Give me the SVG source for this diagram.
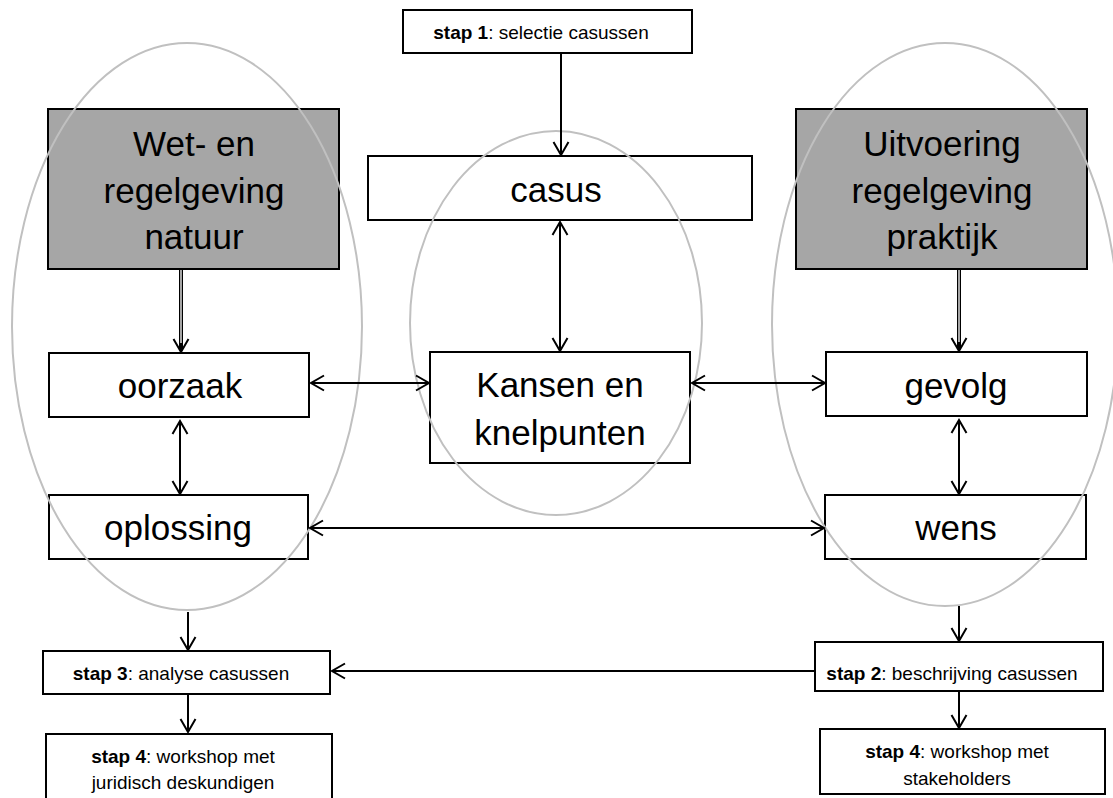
<svg xmlns="http://www.w3.org/2000/svg" width="1113" height="798" viewBox="0 0 1113 798">
<style>
.box{fill:#fff;stroke:#000;stroke-width:2}
.grey{fill:#a6a6a6;stroke:#000;stroke-width:2}
.ell{fill:none;stroke:#c0c0c0;stroke-width:2}
.big{font-family:"Liberation Sans",Arial,sans-serif;font-size:35px;fill:#000;text-anchor:middle}
.sm{font-family:"Liberation Sans",Arial,sans-serif;font-size:19px;fill:#000;text-anchor:middle}
.b{font-weight:bold}
.con{stroke:#000;stroke-width:2;fill:none}
.dbl{stroke:#000;stroke-width:4;fill:none}
.dblw{stroke:#fff;stroke-width:1.3;fill:none}
</style>
<defs>
<marker id="ah" markerUnits="userSpaceOnUse" markerWidth="20" markerHeight="20" viewBox="-16 -10 20 20" refX="0" refY="0" orient="auto-start-reverse">
<path d="M-13,-7.5 L0,0 L-13,7.5" fill="none" stroke="#000" stroke-width="2"/>
</marker>
</defs>
<rect width="1113" height="798" fill="#fff"/>

<g id="stap1"><rect class="box" x="403" y="10" width="289" height="43"/><text class="sm" x="541" y="39"><tspan class="b">stap 1</tspan>: selectie casussen</text></g>
<g id="wet"><rect class="grey" x="48" y="109" width="291" height="160"/><text class="big" x="194" y="156">Wet- en</text><text class="big" x="194" y="203">regelgeving</text><text class="big" x="194" y="249">natuur</text></g>
<g id="uitvoering"><rect class="grey" x="796" y="109" width="291" height="160"/><text class="big" x="942" y="156">Uitvoering</text><text class="big" x="942" y="203">regelgeving</text><text class="big" x="942" y="249">praktijk</text></g>
<g id="casus"><rect class="box" x="368" y="156" width="384" height="64"/><text class="big" x="556" y="202">casus</text></g>
<g id="oorzaak"><rect class="box" x="49" y="353" width="260" height="64"/><text class="big" x="180" y="398">oorzaak</text></g>
<g id="kansen"><rect class="box" x="430" y="352" width="260" height="111"/><text class="big" x="560" y="397">Kansen en</text><text class="big" x="560" y="445">knelpunten</text></g>
<g id="gevolg"><rect class="box" x="826" y="352" width="261" height="64"/><text class="big" x="956" y="398">gevolg</text></g>
<g id="oplossing"><rect class="box" x="49" y="495" width="259" height="64"/><text class="big" x="178" y="540">oplossing</text></g>
<g id="wens"><rect class="box" x="825" y="495" width="261" height="64"/><text class="big" x="956" y="540">wens</text></g>
<g id="stap3"><rect class="box" x="43" y="651" width="287" height="43"/><text class="sm" x="181" y="680"><tspan class="b">stap 3</tspan>: analyse casussen</text></g>
<g id="stap2"><rect class="box" x="815" y="642" width="288" height="49"/><text class="sm" x="952" y="680"><tspan class="b">stap 2</tspan>: beschrijving casussen</text></g>
<g id="stap4a"><rect class="box" x="46" y="734" width="286" height="80"/><text class="sm" x="183" y="763"><tspan class="b">stap 4</tspan>: workshop met</text><text class="sm" x="183" y="789">juridisch deskundigen</text></g>
<g id="stap4b"><rect class="box" x="820" y="729" width="285" height="65"/><text class="sm" x="957" y="758"><tspan class="b">stap 4</tspan>: workshop met</text><text class="sm" x="957" y="785">stakeholders</text></g>

<g id="clusters">
<ellipse class="ell" cx="187" cy="326.5" rx="175" ry="283.5"/>
<ellipse class="ell" cx="556" cy="323" rx="146" ry="192"/>
<ellipse class="ell" cx="945" cy="324.5" rx="173" ry="281.5"/>
</g>

<g id="connectors">
<line class="con" x1="561" y1="53" x2="561" y2="155" marker-end="url(#ah)"/>
<line class="con" x1="560" y1="222" x2="560" y2="351" marker-start="url(#ah)" marker-end="url(#ah)"/>
<line class="con" x1="311" y1="383" x2="429" y2="383" marker-start="url(#ah)" marker-end="url(#ah)"/>
<line class="con" x1="692" y1="383" x2="825" y2="383" marker-start="url(#ah)" marker-end="url(#ah)"/>
<line class="con" x1="310" y1="528" x2="824" y2="528" marker-start="url(#ah)" marker-end="url(#ah)"/>
<line class="con" x1="180" y1="421" x2="180" y2="494" marker-start="url(#ah)" marker-end="url(#ah)"/>
<line class="con" x1="959" y1="420" x2="959" y2="494" marker-start="url(#ah)" marker-end="url(#ah)"/>
<line class="dbl" x1="181" y1="269" x2="181" y2="350"/>
<line class="dblw" x1="181" y1="270" x2="181" y2="343"/>
<line class="con" x1="181" y1="345" x2="181" y2="352" marker-end="url(#ah)"/>
<line class="dbl" x1="959" y1="269" x2="959" y2="349"/>
<line class="dblw" x1="959" y1="270" x2="959" y2="342"/>
<line class="con" x1="959" y1="344" x2="959" y2="351" marker-end="url(#ah)"/>
<line class="con" x1="188" y1="612" x2="188" y2="650" marker-end="url(#ah)"/>
<line class="con" x1="188" y1="694" x2="188" y2="732" marker-end="url(#ah)"/>
<line class="con" x1="815" y1="671" x2="332" y2="671" marker-end="url(#ah)"/>
<line class="con" x1="959" y1="606" x2="959" y2="641" marker-end="url(#ah)"/>
<line class="con" x1="959" y1="691" x2="959" y2="728" marker-end="url(#ah)"/>
</g>
</svg>
